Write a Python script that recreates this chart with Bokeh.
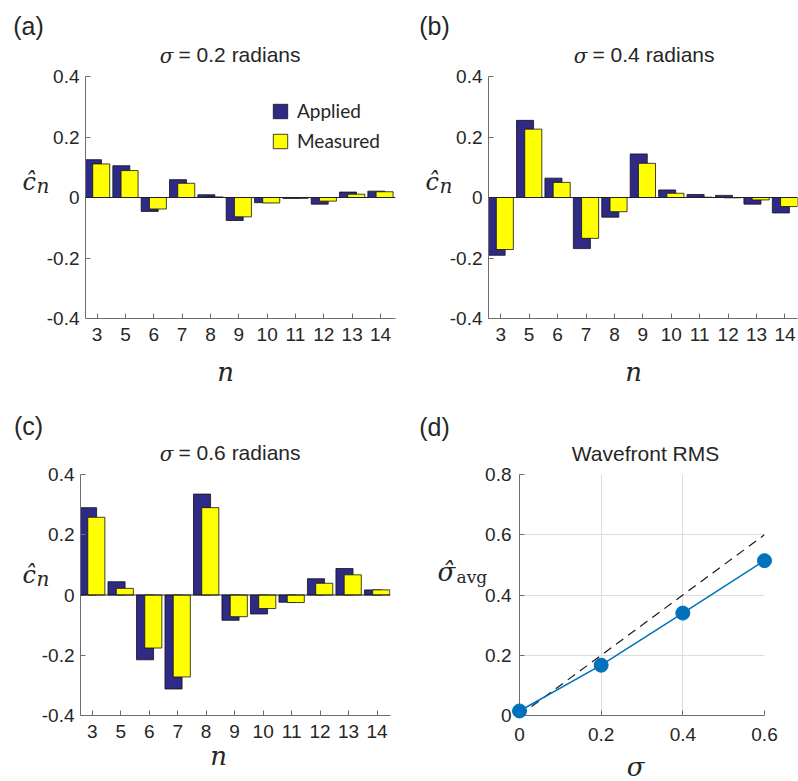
from bokeh.core.properties import value
from bokeh.embed import file_html
from bokeh.layouts import column, row
from bokeh.models import (ColumnDataSource, FixedTicker, Legend, LegendItem,
                          NumeralTickFormatter, Range1d, Span)
from bokeh.plotting import figure
from bokeh.resources import INLINE
from bokeh.transform import dodge

# Zernike mode indices along the bar-chart x axes
n_labels = ["3", "5", "6", "7", "8", "9", "10", "11", "12", "13", "14"]

# Coefficients for sigma = 0.2 rad
applied_02 = [0.125, 0.105, -0.046, 0.059, 0.009, -0.076, -0.017, -0.003, -0.022, 0.018, 0.021]
measured_02 = [0.111, 0.089, -0.038, 0.047, 0.002, -0.064, -0.018, -0.003, -0.012, 0.011, 0.019]

# Coefficients for sigma = 0.4 rad
applied_04 = [-0.191, 0.255, 0.064, -0.169, -0.065, 0.144, 0.025, 0.010, 0.007, -0.022, -0.051]
measured_04 = [-0.172, 0.226, 0.050, -0.135, -0.047, 0.113, 0.014, 0.001, -0.001, -0.008, -0.030]

# Coefficients for sigma = 0.6 rad
applied_06 = [0.290, 0.044, -0.215, -0.312, 0.335, -0.084, -0.063, -0.024, 0.054, 0.088, 0.017]
measured_06 = [0.258, 0.022, -0.176, -0.272, 0.290, -0.072, -0.045, -0.025, 0.039, 0.067, 0.017]

# Wavefront RMS: applied sigma vs. estimated average sigma
sigma = [0.0, 0.2, 0.4, 0.6]
sigma_avg = [0.015, 0.167, 0.340, 0.514]

BLUE = "#2E2A86"
YELLOW = "#FFFF00"
AXIS = "#6E6E6E"
TEXT = "#262626"
SANS = "Liberation Sans"
SERIF = "DejaVu Serif"


def add_text(p, text, x, y, size, font=SANS, style="normal", align="center", baseline="middle"):
    """Place text at canvas pixel (x, y) from the figure's top-left corner.

    The pixel position is mapped into the figure's data space; the text
    renderer sits on the overlay level so it may extend past the frame.
    """
    fl, fr = p.min_border_left, p.width - p.min_border_right
    ft, fb = p.min_border_top, p.height - p.min_border_bottom
    xr, yr = p.x_range, p.y_range
    xd = xr.start + (x - fl) / (fr - fl) * (xr.end - xr.start)
    yd = yr.start + (fb - y) / (fb - ft) * (yr.end - yr.start)
    r = p.text(x=[xd], y=[yd], text=[text], text_font=value(font),
               text_font_size=value(f"{size}px"), text_font_style=style,
               text_color=TEXT, text_align=align, text_baseline=baseline)
    r.level = "overlay"


def style_axes(p, x_standoff, y_standoff):
    p.outline_line_color = None
    p.axis.axis_line_color = AXIS
    p.axis.axis_line_width = 1
    p.axis.major_tick_line_color = AXIS
    p.axis.major_tick_in = 5
    p.axis.major_tick_out = 0
    p.axis.minor_tick_line_color = None
    p.axis.major_label_text_font = SANS
    p.axis.major_label_text_font_size = "19px"
    p.axis.major_label_text_color = TEXT
    p.xaxis.major_label_standoff = x_standoff
    p.yaxis.major_label_standoff = y_standoff


def coefficient_panel(applied, measured, width, height, borders, x_span):
    left, right, top, bottom = borders
    p = figure(width=width, height=height, output_backend="svg", toolbar_location=None,
               x_range=Range1d(*x_span), y_range=Range1d(-0.4, 0.4),
               min_border_left=left, min_border_right=right,
               min_border_top=top, min_border_bottom=bottom)
    p.grid.visible = False
    positions = list(range(len(n_labels)))
    src = ColumnDataSource(dict(pos=positions, applied=applied, measured=measured))
    r_app = p.vbar(x=dodge("pos", -0.145, range=p.x_range), top="applied", bottom=0,
                   width=0.6, source=src, fill_color=BLUE, line_color="#111111", line_width=0.8)
    r_meas = p.vbar(x=dodge("pos", 0.145, range=p.x_range), top="measured", bottom=0,
                    width=0.6, source=src, fill_color=YELLOW, line_color="#111111", line_width=0.8)
    p.add_layout(Span(location=0, dimension="width", line_color="#222222", line_width=1))
    p.xaxis.ticker = FixedTicker(ticks=positions)
    p.xaxis.major_label_overrides = {i: lab for i, lab in enumerate(n_labels)}
    p.yaxis.ticker = FixedTicker(ticks=[-0.4, -0.2, 0, 0.2, 0.4])
    p.yaxis.formatter = NumeralTickFormatter(format="0.[0]")
    style_axes(p, 9, 6)
    return p, r_app, r_meas


def c_hat_label(p, x, y):
    add_text(p, "ĉ", x, y, 24, SERIF, "italic", "left", "alphabetic")
    add_text(p, "n", x + 14, y + 4, 20, SERIF, "italic", "left", "alphabetic")


def sigma_title(p, rest, x, y):
    # italic sigma followed by the upright remainder of the title
    add_text(p, "σ", x, y + 1, 20, SERIF, "italic", "center", "middle")
    add_text(p, rest, x + 12, y, 21, SANS, "normal", "left", "middle")


# (a) sigma = 0.2
pa, ra, rm = coefficient_panel(applied_02, measured_02, 400, 390, (85, 5, 76, 72), (-0.41, 10.53))
add_text(pa, "(a)", 28, 25, 25)
sigma_title(pa, "= 0.2 radians", 166, 54)
c_hat_label(pa, 22, 181)
add_text(pa, "n", 225, 371, 26, SERIF, "italic", "center", "alphabetic")
legend = Legend(items=[LegendItem(label="Applied", renderers=[ra]),
                       LegendItem(label="Measured", renderers=[rm])],
                location=(186, 166), padding=0, margin=0, spacing=7,
                glyph_width=18, glyph_height=18, label_height=18, label_standoff=8,
                label_text_font="Lato", label_text_font_size="19px", label_text_color=TEXT,
                border_line_color=None, background_fill_alpha=0, level="overlay")
pa.add_layout(legend)

# (b) sigma = 0.4
pb, _, _ = coefficient_panel(applied_04, measured_04, 398, 390, (88, 1, 76, 72), (-0.43, 10.44))
add_text(pb, "(b)", 34, 25, 25)
sigma_title(pb, "= 0.4 radians", 180, 54)
c_hat_label(pb, 25, 181)
add_text(pb, "n", 233, 371, 26, SERIF, "italic", "center", "alphabetic")

# (c) sigma = 0.6
pc, _, _ = coefficient_panel(applied_06, measured_06, 400, 391, (80, 10, 84, 65), (-0.41, 10.47))
add_text(pc, "(c)", 28, 35, 25)
sigma_title(pc, "= 0.6 radians", 166, 62)
c_hat_label(pc, 22, 185)
add_text(pc, "n", 218, 367, 26, SERIF, "italic", "center", "alphabetic")

# (d) wavefront RMS
pd = figure(width=398, height=391, output_backend="svg", toolbar_location=None,
            x_range=Range1d(0, 0.6), y_range=Range1d(0, 0.8),
            min_border_left=119, min_border_right=34, min_border_top=81, min_border_bottom=66)
pd.xaxis.ticker = FixedTicker(ticks=[0, 0.2, 0.4, 0.6])
pd.yaxis.ticker = FixedTicker(ticks=[0, 0.2, 0.4, 0.6, 0.8])
pd.xaxis.formatter = NumeralTickFormatter(format="0.[0]")
pd.yaxis.formatter = NumeralTickFormatter(format="0.[0]")
pd.grid.grid_line_color = "#DCDCDC"
pd.grid.grid_line_width = 1
style_axes(pd, 12, 8)
pd.line(sigma, sigma, line_color="#1A1A1A", line_width=1.2, line_dash="9 6")
pd.line(sigma, sigma_avg, line_color="#0072BD", line_width=1.5)
pts = pd.scatter(sigma, sigma_avg, size=14, fill_color="#0072BD", line_color="#0072BD")
pts.level = "overlay"
add_text(pd, "(d)", 34, 33, 25)
add_text(pd, "Wavefront RMS", 245, 60, 21)
add_text(pd, "σ̂", 37, 180, 26, SERIF, "italic", "left", "alphabetic")
add_text(pd, "avg", 56, 185, 17, SERIF, "normal", "left", "alphabetic")
add_text(pd, "σ", 235, 377, 26, SERIF, "italic", "center", "alphabetic")

layout = column(row(pa, pb), row(pc, pd))
open("out.html", "w").write(file_html(layout, INLINE))
